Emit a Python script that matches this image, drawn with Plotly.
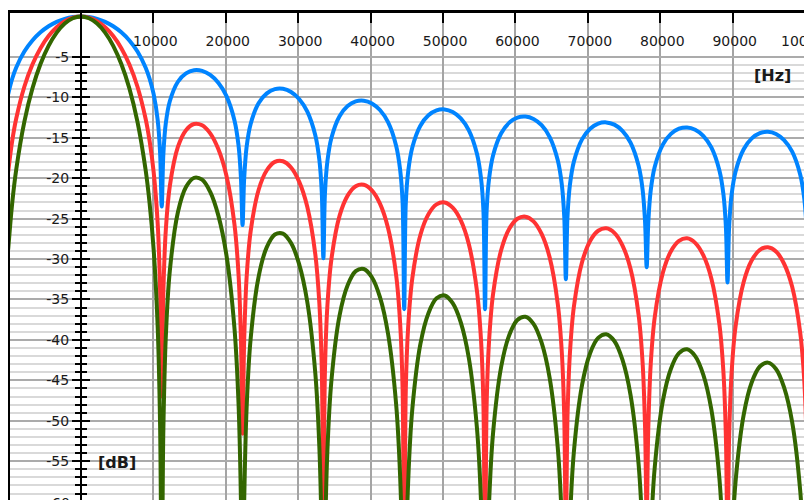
import plotly.graph_objects as go

# Frequency positions (Hz) at which the three responses were read
freq_hz = [
    -10044, -9486, -8928, -7812, -6696, -5580, -4464, -3348, -2232, -1116, 0,
    1116, 2232, 3348, 4464, 5580, 6696, 7812, 8928, 9486, 10044, 10602, 10937,
    11160,
    11383, 11718, 12276, 13392, 14508, 15624, 16740, 17856, 18972, 20088, 21204, 21762, 22097,
    22320,
    22543, 22878, 23436, 24552, 25668, 26784, 27900, 29016, 30132, 31248, 32364, 32922, 33257,
    33480,
    33703, 34038, 34596, 35712, 36828, 37944, 39060, 40176, 41292, 42408, 43524, 44082, 44417,
    44640,
    44863, 45198, 45756, 46872, 47988, 49104, 50220, 51336, 52452, 53568, 54684, 55242, 55577,
    55800,
    56023, 56358, 56916, 58032, 59148, 60264, 61380, 62496, 63612, 64728, 65844, 66402, 66737,
    66960,
    67183, 67518, 68076, 69192, 70308, 71424, 72540, 73656, 74772, 75888, 77004, 77562, 77897,
    78120,
    78343, 78678, 79236, 80352, 81468, 82584, 83700, 84816, 85932, 87048, 88164, 88722, 89057,
    89280,
    89503, 89838, 90396, 91512, 92628, 93744, 94860, 95976, 97092, 98208, 99324, 99882, 100217,
    100440,
]

blue_db = [
    -9.61, -7.70, -6.31, -4.34, -2.97, -1.96, -1.21, -0.66, -0.29, -0.07, 0,
    -0.07, -0.29, -0.66, -1.21, -1.96, -2.97, -4.34, -6.31, -7.70, -9.61, -12.81, -16.91,
    -23.5,
    -17.08, -13.24, -10.49, -8.07, -7.03, -6.65, -6.73, -7.23, -8.20, -9.83, -12.86, -15.93, -19.96,
    -25.8,
    -20.05, -16.15, -13.29, -10.70, -9.51, -8.99, -8.95, -9.34, -10.21, -11.75, -14.70, -17.73, -21.73,
    -29.9,
    -21.79, -17.87, -14.99, -12.33, -11.08, -10.50, -10.41, -10.75, -11.57, -13.08, -15.98, -18.99, -22.99,
    -36.2,
    -23.03, -19.10, -16.20, -13.51, -12.23, -11.62, -11.50, -11.82, -12.61, -14.09, -16.97, -19.97, -23.96,
    -36.2,
    -24.00, -20.06, -17.15, -14.44, -13.13, -12.51, -12.38, -12.67, -13.45, -14.91, -17.78, -20.77, -24.76,
    -32.5,
    -24.79, -20.85, -17.92, -15.20, -13.88, -13.25, -13.10, -13.38, -14.15, -15.60, -18.46, -21.45, -25.43,
    -31.0,
    -25.46, -21.51, -18.58, -15.85, -14.52, -13.88, -13.72, -14.00, -14.76, -16.20, -19.05, -22.03, -26.01,
    -32.9,
    -26.03, -22.09, -19.16, -16.42, -15.08, -14.43, -14.27, -14.53, -15.29, -16.72, -19.57, -22.55, -26.53,
    -33.0,
]

red_db = [
    -19.23, -15.39, -12.62, -8.69, -5.94, -3.92, -2.42, -1.33, -0.58, -0.14, 0,
    -0.14, -0.58, -1.33, -2.42, -3.92, -5.94, -8.69, -12.62, -15.39, -19.23, -25.61, -33.81,
    -47.0,
    -34.16, -26.48, -20.98, -16.14, -14.06, -13.30, -13.46, -14.46, -16.40, -19.66, -25.72, -31.86, -39.92,
    -51.6,
    -40.10, -32.30, -26.58, -21.40, -19.02, -17.98, -17.90, -18.68, -20.42, -23.50, -29.40, -35.46, -43.46,
    -59.8,
    -43.58, -35.74, -29.98, -24.66, -22.16, -21.00, -20.82, -21.50, -23.14, -26.16, -31.96, -37.98, -45.98,
    -72.4,
    -46.06, -38.20, -32.40, -27.02, -24.46, -23.24, -23.00, -23.64, -25.22, -28.18, -33.94, -39.94, -47.92,
    -72.4,
    -48.00, -40.12, -34.30, -28.88, -26.26, -25.02, -24.76, -25.34, -26.90, -29.82, -35.56, -41.54, -49.52,
    -65.0,
    -49.58, -41.70, -35.84, -30.40, -27.76, -26.50, -26.20, -26.76, -28.30, -31.20, -36.92, -42.90, -50.86,
    -62.0,
    -50.92, -43.02, -37.16, -31.70, -29.04, -27.76, -27.44, -28.00, -29.52, -32.40, -38.10, -44.06, -52.02,
    -65.8,
    -52.06, -44.18, -38.32, -32.84, -30.16, -28.86, -28.54, -29.06, -30.58, -33.44, -39.14, -45.10, -53.06,
    -66.0,
]

green_db = [
    -28.84, -23.09, -18.93, -13.03, -8.91, -5.88, -3.63, -1.99, -0.87, -0.22, 0,
    -0.22, -0.87, -1.99, -3.63, -5.88, -8.91, -13.03, -18.93, -23.09, -28.84, -38.42, -50.72,
    -70.5,
    -51.24, -39.72, -31.47, -24.21, -21.09, -19.95, -20.19, -21.69, -24.60, -29.49, -38.58, -47.79, -59.88,
    -77.4,
    -60.15, -48.45, -39.87, -32.10, -28.53, -26.97, -26.85, -28.02, -30.63, -35.25, -44.10, -53.19, -65.19,
    -89.7,
    -65.37, -53.61, -44.97, -36.99, -33.24, -31.50, -31.23, -32.25, -34.71, -39.24, -47.94, -56.97, -68.97,
    -108.6,
    -69.09, -57.30, -48.60, -40.53, -36.69, -34.86, -34.50, -35.46, -37.83, -42.27, -50.91, -59.91, -71.88,
    -108.6,
    -72.00, -60.18, -51.45, -43.32, -39.39, -37.53, -37.14, -38.01, -40.35, -44.73, -53.34, -62.31, -74.28,
    -97.5,
    -74.37, -62.55, -53.76, -45.60, -41.64, -39.75, -39.30, -40.14, -42.45, -46.80, -55.38, -64.35, -76.29,
    -93.0,
    -76.38, -64.53, -55.74, -47.55, -43.56, -41.64, -41.16, -42.00, -44.28, -48.60, -57.15, -66.09, -78.03,
    -98.7,
    -78.09, -66.27, -57.48, -49.26, -45.24, -43.29, -42.81, -43.59, -45.87, -50.16, -58.71, -67.65, -79.59,
    -99.0,
]

x_tick_vals = [10000, 20000, 30000, 40000, 50000, 60000, 70000, 80000, 90000]
x_tick_text = ["10000", "20000", "30000", "40000", "50000", "60000", "70000", "80000", "90000"]
y_tick_vals = [-55, -50, -45, -40, -35, -30, -25, -20, -15, -10, -5]
y_tick_text = ["-55", "-50", "-45", "-40", "-35", "-30", "-25", "-20", "-15", "-10", "-5"]
y_minor_vals = [v for v in range(-59, 0) if v % 5 != 0]

X_RANGE = [-9790, 99842]
Y_RANGE = [-59.8, 0.43]
YAXIS_POS = 0.0893

FONT = "DejaVu Sans"
TXT = "#1a1a1a"

fig = go.Figure()
# blue on the base axis, red and green on the two overlaid axes that draw the crossing y-axis
for ys, color, yax in [(blue_db, "rgb(0,132,255)", "y"),
                       (red_db, "rgb(255,51,51)", "y2"),
                       (green_db, "rgb(51,102,0)", "y3")]:
    fig.add_trace(go.Scatter(
        x=freq_hz, y=ys, mode="lines", yaxis=yax,
        line=dict(color=color, width=4, shape="spline"),
        hoverinfo="skip", showlegend=False,
    ))

minor_ticks = dict(ticks="outside", ticklen=5, tickwidth=1.5, tickcolor="black",
                   tickvals=y_minor_vals, showgrid=False)

fig.update_layout(
    width=804, height=500,
    margin=dict(l=10, r=0, t=13, b=0),
    paper_bgcolor="white", plot_bgcolor="white",
    showlegend=False,
    font=dict(family=FONT, size=14, color=TXT),
    xaxis=dict(
        range=X_RANGE, side="top", showline=True, linecolor="black", linewidth=3,
        ticks="inside", ticklen=10, tickwidth=2, tickcolor="black",
        tickvals=x_tick_vals, ticktext=x_tick_text,
        ticklabelposition="inside", ticklabelshift=2, ticklabelstandoff=13,
        tickfont=dict(family=FONT, size=14, color=TXT),
        showgrid=True, gridcolor="#a4a4a4", gridwidth=1.7, zeroline=False,
    ),
    yaxis=dict(
        range=Y_RANGE, showline=True, linecolor="black", linewidth=1.5, side="left",
        showticklabels=False, ticks="", tickmode="linear", dtick=5, tick0=0,
        showgrid=True, gridcolor="#ababab", gridwidth=1.5, zeroline=False,
        minor=dict(dtick=1, tick0=0, showgrid=True, gridcolor="#d9d9d9", gridwidth=1.5, ticks=""),
    ),
    yaxis2=dict(
        range=Y_RANGE, overlaying="y", anchor="free", position=YAXIS_POS, side="left",
        showline=True, linecolor="black", linewidth=2,
        ticks="outside", ticklen=8, tickwidth=2, tickcolor="black",
        tickvals=y_tick_vals, ticktext=y_tick_text,
        tickfont=dict(family=FONT, size=14, color=TXT),
        showgrid=False, zeroline=False, minor=minor_ticks,
    ),
    yaxis3=dict(
        range=Y_RANGE, overlaying="y", anchor="free", position=YAXIS_POS, side="right",
        showline=False, ticks="outside", ticklen=8, tickwidth=2, tickcolor="black",
        tickvals=y_tick_vals, showticklabels=False,
        showgrid=False, zeroline=False, minor=minor_ticks,
    ),
    annotations=[
        dict(text="<b>[Hz]</b>", x=95560, y=-7.36, xref="x", yref="y", showarrow=False,
             font=dict(family=FONT, size=16, color=TXT)),
        dict(text="<b>[dB]</b>", x=4943, y=-55.1, xref="x", yref="y", showarrow=False,
             font=dict(family=FONT, size=16, color=TXT)),
        dict(text="100000", x=1.0038, y=0.9435, xref="paper", yref="paper", showarrow=False,
             xanchor="center", yanchor="middle", font=dict(family=FONT, size=14, color=TXT)),
        dict(text="-60", x=0.0785, y=-0.0062, xref="paper", yref="paper", showarrow=False,
             xanchor="right", yanchor="middle", font=dict(family=FONT, size=14, color=TXT)),
    ],
)

fig.write_html("out.html")
